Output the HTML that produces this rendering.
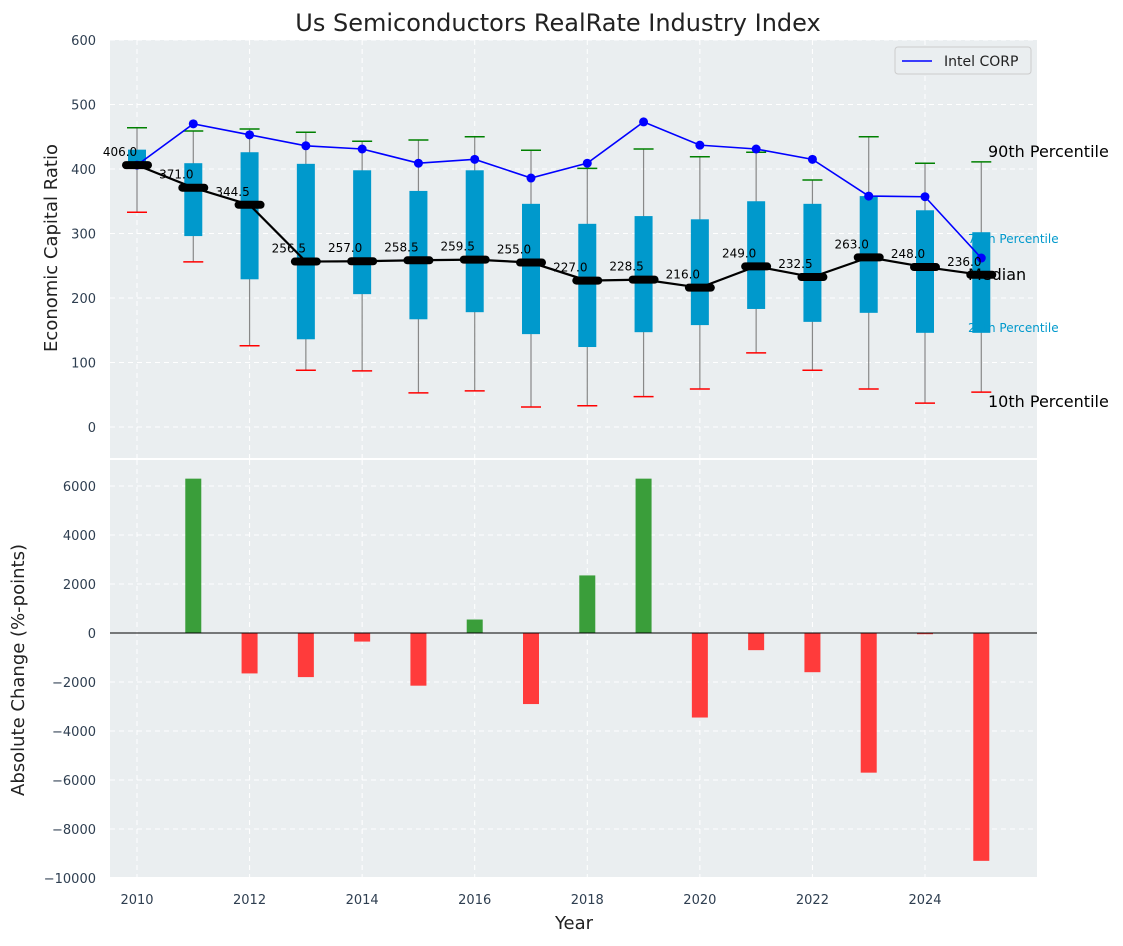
<!DOCTYPE html>
<html><head><meta charset="utf-8"><style>
body{margin:0;background:#fff;font-family:"DejaVu Sans","Liberation Sans",sans-serif;}
</style></head><body>
<svg id="chart" width="1123" height="942" xmlns="http://www.w3.org/2000/svg" font-family="DejaVu Sans, Liberation Sans, sans-serif"></svg>
<script>
const years=[2010,2011,2012,2013,2014,2015,2016,2017,2018,2019,2020,2021,2022,2023,2024,2025];
const medians=[406.0,371.0,344.5,256.5,257.0,258.5,259.5,255.0,227.0,228.5,216.0,249.0,232.5,263.0,248.0,236.0];
const p25=[400,296,229,136,206,167,178,144,124,147,158,183,163,177,146,146];
const p75=[430,409,426,408,398,366,398,346,315,327,322,350,346,358,336,302];
const p10=[333,256,126,88,87,53,56,31,33,47,59,115,88,59,37,54];
const p90=[464,459,462,457,443,445,450,429,401,431,419,426,383,450,409,411];
const intel=[406,470,453,436,431,409,415,386,409,473,437,431,415,358,357,262];
const changes=[0,6300,-1650,-1800,-350,-2150,550,-2900,2350,6300,-3450,-700,-1600,-5700,-50,-9300];
const topTicks=[0,100,200,300,400,500,600];
const botTicks=[-10000,-8000,-6000,-4000,-2000,0,2000,4000,6000];
const xTicks=[2010,2012,2014,2016,2018,2020,2022,2024];

const NS="http://www.w3.org/2000/svg";
const svg=document.getElementById('chart');
function el(tag,attrs,parent){const e=document.createElementNS(NS,tag);for(const k in attrs)e.setAttribute(k,attrs[k]);(parent||svg).appendChild(e);return e;}
const L=110,R=1037;
const xs=y=>137+(y-2010)*(925-137)/14;
const yt=v=>427-v*0.645;
const yb=v=>633-v*0.0245;

let bg1=el('rect',{x:L,y:40,width:R-L,height:418,fill:'#eaeef0'});


let bg2=el('rect',{x:L,y:460,width:R-L,height:417,fill:'#eaeef0'});



xTicks.forEach(t=>{
  [[40,458],[460,877]].forEach(([a,b])=>{el('line',{x1:xs(t),x2:xs(t),y1:a,y2:b,stroke:'#fff','stroke-dasharray':'5,4','stroke-width':1});});
  const tx=el('text',{x:xs(t),y:904,'text-anchor':'middle','font-size':13,fill:'#2e3e50'});tx.textContent=t;
  
  
});
topTicks.forEach(t=>{
  el('line',{x1:L,x2:R,y1:yt(t),y2:yt(t),stroke:'#fff','stroke-dasharray':'5,4'});
  const tx=el('text',{x:96,y:yt(t)+5,'text-anchor':'end','font-size':13,fill:'#2e3e50'});tx.textContent=t;
  
  
});
botTicks.forEach(t=>{
  el('line',{x1:L,x2:R,y1:yb(t),y2:yb(t),stroke:'#fff','stroke-dasharray':'5,4'});
  const tx=el('text',{x:96,y:yb(t)+5,'text-anchor':'end','font-size':13,fill:'#2e3e50'});tx.textContent=(t<0?'\u2212'+(-t):t);
  
  
});

years.forEach((y,i)=>{
  const x=xs(y);
  el('line',{x1:x,x2:x,y1:yt(p90[i]),y2:yt(p10[i]),stroke:'#888','stroke-width':1.2});
  const b=el('rect',{x:x-9,y:yt(p75[i]),width:18,height:yt(p25[i])-yt(p75[i]),fill:'#0099cc'});
  
  
  el('line',{x1:x-10,x2:x+10,y1:yt(p90[i]),y2:yt(p90[i]),stroke:'green','stroke-width':1.5});
  el('line',{x1:x-10,x2:x+10,y1:yt(p10[i]),y2:yt(p10[i]),stroke:'red','stroke-width':1.5});
});
let ip=el('polyline',{points:years.map((y,i)=>xs(y)+','+yt(intel[i])).join(' '),fill:'none',stroke:'blue','stroke-width':1.6});


years.forEach((y,i)=>{const c=el('circle',{cx:xs(y),cy:yt(intel[i]),r:4.5,fill:'blue'});
  
  });
let mp=el('polyline',{points:years.map((y,i)=>xs(y)+','+yt(medians[i])).join(' '),fill:'none',stroke:'#000','stroke-width':2.2});


years.forEach((y,i)=>{
  const x=xs(y);
  const m=el('line',{x1:x-11,x2:x+11,y1:yt(medians[i]),y2:yt(medians[i]),stroke:'#000','stroke-width':8,'stroke-linecap':'round'});
  
  
  const t=el('text',{x:x-17,y:yt(medians[i])-9,'text-anchor':'middle','font-size':12,fill:'#000'});t.textContent=medians[i].toFixed(1);
  
  
});
[['90th Percentile',988,157,16,'#000'],['75th Percentile',968,243,12,'#0099cc'],['Median',968,280,16,'#000'],['25th Percentile',968,332,12,'#0099cc'],['10th Percentile',988,407,16,'#000']].forEach(a=>{
  const t=el('text',{x:a[1],y:a[2],'font-size':a[3],fill:a[4]});t.textContent=a[0];
  
  
});
years.forEach((y,i)=>{
  const v=changes[i];if(v===0)return;
  const b=el('rect',{x:xs(y)-8,y:Math.min(yb(v),yb(0)),width:16,height:Math.abs(yb(v)-yb(0)),fill:v>0?'#3a9e3a':'#ff3b3b'});
  
  
});
el('line',{x1:L,x2:R,y1:yb(0),y2:yb(0),stroke:'#000','stroke-width':1});

const lg=el('g',{});


el('rect',{x:895,y:47,width:136,height:27,fill:'#eaeef0',stroke:'#ccc',rx:3},lg);
el('line',{x1:902,x2:932,y1:61,y2:61,stroke:'blue','stroke-width':1.6},lg);
const lt=el('text',{x:944,y:66,'font-size':14,fill:'#222'},lg);lt.textContent='Intel CORP';

const tt=el('text',{x:558,y:31,'text-anchor':'middle','font-size':24,fill:'#222'});tt.textContent='Us Semiconductors RealRate Industry Index';


const xt=el('text',{x:574,y:929,'text-anchor':'middle','font-size':18,fill:'#222'});xt.textContent='Year';


const y1=el('text',{x:57,y:248,'text-anchor':'middle','font-size':18,fill:'#222',transform:'rotate(-90 57 248)'});y1.textContent='Economic Capital Ratio';


const y2=el('text',{x:24,y:670,'text-anchor':'middle','font-size':18,fill:'#222',transform:'rotate(-90 24 670)'});y2.textContent='Absolute Change (%-points)';


</script>
</body></html>
